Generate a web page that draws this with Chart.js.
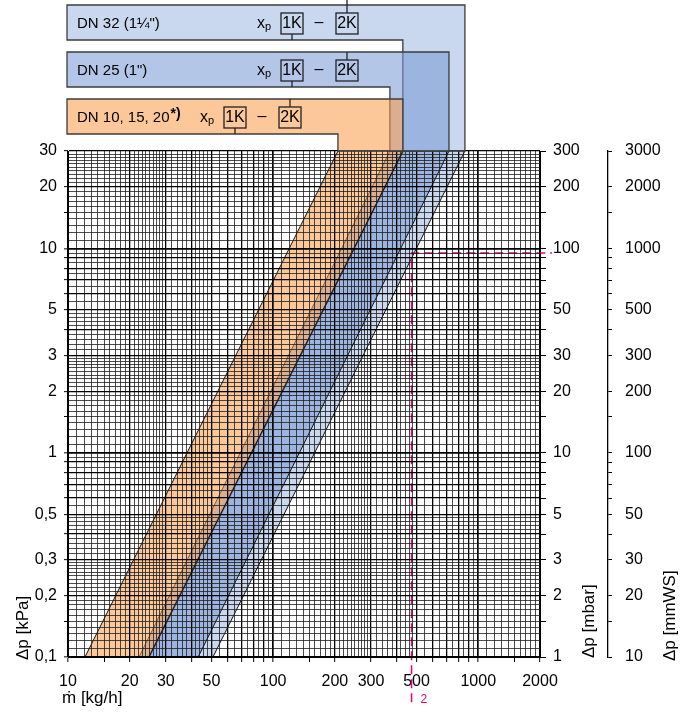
<!DOCTYPE html>
<html>
<head>
<meta charset="utf-8">
<title>Druckverlust-Diagramm</title>
<script src="https://cdn.jsdelivr.net/npm/chart.js@4.4.1/dist/chart.umd.min.js"></script>
<style>
  html, body { margin: 0; padding: 0; background: #fff; }
  #chartBox { width: 682px; height: 714px; }
</style>
</head>
<body>
<div id="chartBox"><canvas id="flowChart" width="682" height="714"></canvas></div>
<script>
/*********************************************/
/*        Pressure drop vs. mass flow        */
/*********************************************/

// characteristic lines, flow [kg/h] read at the bottom (0,1 kPa) and top (30 kPa) of the plot
const lineNames = ["DN 10/15/20 1K", "DN 10/15/20 2K", "DN 25 1K", "DN 25 2K", "DN 32 1K", "DN 32 2K"];
const flowAtBottom = [12.1, 24.8, 22.2, 43.1, 24.8, 50.9];
const flowAtTop = [207, 429, 371, 720, 429, 861];
const dpEnds = [0.1, 30];

// header boxes (one per band, bottom to top)
const bandNames = ["DN 10, 15, 20", "DN 25 (1\")", "DN 32 (1\u00bc\")"];

// example reading (pink dashed line, marked "2")
const exampleFlow = [473, 2290];
const exampleDp = [0.06, 9.5];

// labelled ticks
const flowTicks = [10, 20, 30, 50, 100, 200, 300, 500, 1000, 2000];
const kpaTicks = [0.1, 0.2, 0.3, 0.5, 1, 2, 3, 5, 10, 20, 30];
const mbarTicks = [1, 2, 3, 5, 10, 20, 30, 50, 100, 200, 300];
const mmwsTicks = [10, 20, 30, 50, 100, 200, 300, 500, 1000, 2000, 3000];

const bandColors = ["rgba(250,155,70,0.55)", "rgba(123,155,213,0.57)", "rgba(120,155,215,0.40)"];
const fontFamily = "'Liberation Sans', Arial, sans-serif";

Chart.defaults.font.family = fontFamily;
Chart.defaults.color = "#000";

// helpers for the log paper grid
function mantissa(v) {
  return v / Math.pow(10, Math.floor(Math.log10(v) + 1e-9));
}
function isWhole(v) {
  const m = mantissa(v);
  return Math.abs(m - Math.round(m)) < 1e-6;
}
function isDecade(v) {
  return Math.abs(mantissa(v) - 1) < 1e-6;
}
function isMark(v) {
  return isWhole(v) || Math.abs(mantissa(v) - 1.5) < 1e-6;
}
function hasLabel(list, v) {
  return list.some(t => Math.abs(t - v) / t < 1e-6);
}
function fmt(v) {
  return String(+v.toPrecision(6)).replace(".", ",");
}
// every grid line of one decade: 0.1 steps up to 3, 0.2 up to 5, 0.5 up to 10
function gridValues(min, max, marksOnly) {
  const vals = [];
  const steps = [[1, 3, 0.1], [3, 5, 0.2], [5, 10, 0.5]];
  for (let d = Math.floor(Math.log10(min)); d <= Math.ceil(Math.log10(max)); d++) {
    const p = Math.pow(10, d);
    steps.forEach(([a, b, s]) => {
      for (let m = a; m < b - 1e-9; m += s) {
        const v = +(m * p).toPrecision(6);
        if (v < min * 0.9999 || v > max * 1.0001) continue;
        if (marksOnly && !isMark(v)) continue;
        vals.push(v);
      }
    });
  }
  return vals;
}

function gridColor(c) {
  const v = c.tick ? c.tick.value : 1;
  return isWhole(v) ? "#000" : "#1e1e1e";
}
function gridWidth(c) {
  const v = c.tick ? c.tick.value : 1;
  if (isDecade(v)) return 1.7;
  return isWhole(v) ? 1.3 : 0.8;
}
function markColor(c) {
  const v = c.tick ? c.tick.value : 1;
  return isMark(v) ? "#000" : "rgba(0,0,0,0)";
}

// build the line datasets, every second line closes a band with the one before it
const datasets = lineNames.map((name, i) => ({
  label: name,
  data: [{ x: flowAtBottom[i], y: dpEnds[0] }, { x: flowAtTop[i], y: dpEnds[1] }],
  borderColor: "#111",
  borderWidth: i === 4 ? 2 : 1,
  pointRadius: 0,
  fill: i % 2 === 1 ? "-1" : false,
  backgroundColor: bandColors[Math.floor(i / 2)]
}));

datasets.push({
  label: "Beispiel",
  data: [
    { x: exampleFlow[0], y: exampleDp[0] },
    { x: exampleFlow[0], y: exampleDp[1] },
    { x: exampleFlow[1], y: exampleDp[1] }
  ],
  borderColor: "#e6007e",
  borderDash: [9, 5],
  borderWidth: 1.5,
  pointRadius: 0,
  fill: false,
  clip: false,
  order: -1
});

// header boxes, axis titles and the example marker
const decor = {
  id: "decor",
  afterDraw(chart) {
    const { ctx, chartArea, scales } = chart;
    const headerTop = [99, 52, 5];
    const headerH = 35;
    const xpX = [200, 257, 257];
    const left = chartArea.left - 1;

    ctx.save();
    for (let b = 2; b >= 0; b--) {
      const top = headerTop[b];
      const colL = scales.x.getPixelForValue(flowAtTop[2 * b]);
      const colR = scales.x.getPixelForValue(flowAtTop[2 * b + 1]);

      ctx.beginPath();
      ctx.moveTo(left, top);
      ctx.lineTo(colR, top);
      ctx.lineTo(colR, chartArea.top);
      ctx.lineTo(colL, chartArea.top);
      ctx.lineTo(colL, top + headerH);
      ctx.lineTo(left, top + headerH);
      ctx.closePath();
      ctx.fillStyle = bandColors[b];
      ctx.fill();
      ctx.strokeStyle = "#3c3c3c";
      ctx.lineWidth = 1.3;
      ctx.stroke();

      // name
      ctx.fillStyle = "#000";
      ctx.textAlign = "left";
      ctx.textBaseline = "alphabetic";
      ctx.font = "15px " + fontFamily;
      ctx.fillText(bandNames[b], left + 10, top + 23);
      if (b === 0) {
        const w = ctx.measureText(bandNames[b]).width;
        ctx.font = "bold 14px " + fontFamily;
        ctx.fillText("*)", left + 10 + w + 1, top + 19);
      }

      // x_p 1K - 2K
      const xp = xpX[b];
      ctx.font = "16px " + fontFamily;
      ctx.fillText("x", xp, top + 23);
      ctx.font = "11px " + fontFamily;
      ctx.fillText("p", xp + 8, top + 25);

      ctx.strokeStyle = "#222";
      ctx.lineWidth = 1.3;
      ctx.strokeRect(xp + 24, top + 8, 22, 21);
      ctx.strokeRect(xp + 79, top + 8, 22, 21);
      ctx.beginPath();
      ctx.moveTo(xp + 35, top + 29);
      ctx.lineTo(xp + 35, top + headerH);
      ctx.moveTo(xp + 90, top + 8);
      ctx.lineTo(xp + 90, b === 2 ? 0 : top);
      ctx.stroke();

      ctx.font = "16px " + fontFamily;
      ctx.textAlign = "center";
      ctx.textBaseline = "middle";
      ctx.fillText("1K", xp + 35, top + 19);
      ctx.fillText("2K", xp + 90, top + 19);
      ctx.fillText("\u2013", xp + 62, top + 18);
    }

    // axis titles
    ctx.font = "17px " + fontFamily;
    ctx.fillStyle = "#000";
    ctx.textAlign = "left";
    ctx.textBaseline = "alphabetic";
    ctx.fillText("\u1e41 [kg/h]", 62, 703);

    const vTitles = [["\u0394p [kPa]", 28, 660], ["\u0394p [mbar]", 594, 658], ["\u0394p [mmWS]", 675, 661]];
    vTitles.forEach(([t, x, y]) => {
      ctx.save();
      ctx.translate(x, y);
      ctx.rotate(-Math.PI / 2);
      ctx.fillText(t, 0, 0);
      ctx.restore();
    });

    // example marker
    ctx.fillStyle = "#e6007e";
    ctx.font = "12px " + fontFamily;
    ctx.fillText("2", scales.x.getPixelForValue(exampleFlow[0]) + 9, 703);
    ctx.restore();
  }
};

const tickFont = { size: 16, family: fontFamily };

const config = {
  type: "line",
  data: { datasets: datasets },
  options: {
    responsive: false,
    animation: false,
    indexAxis: "y",
    layout: { padding: { top: 151, left: 0, right: 0, bottom: 0 } },
    plugins: { legend: { display: false }, tooltip: { enabled: false } },
    scales: {
      x: {
        type: "logarithmic",
        position: "bottom",
        min: 10,
        max: 2000,
        afterBuildTicks: s => { s.ticks = gridValues(10, 2000).map(v => ({ value: v })); },
        afterFit: s => { s.height = 57; },
        grid: { z: 1, color: gridColor, lineWidth: gridWidth, tickLength: 5, tickColor: markColor, tickWidth: 1 },
        // border has to be drawn after the grid (it needs the grid's position)
        border: { z: 1, color: "#000", width: 1 },
        ticks: {
          autoSkip: false, maxRotation: 0, padding: 10, font: tickFont, color: "#000",
          callback: v => hasLabel(flowTicks, v) ? fmt(v) : ""
        }
      },
      y: {
        type: "logarithmic",
        position: "left",
        min: 0.1,
        max: 30,
        afterBuildTicks: s => { s.ticks = gridValues(0.1, 30).map(v => ({ value: v })); },
        afterFit: s => { s.width = 68; },
        grid: { z: 1, color: gridColor, lineWidth: gridWidth, tickLength: 4, tickColor: markColor, tickWidth: 1 },
        border: { z: 1, color: "#000", width: 1 },
        ticks: {
          autoSkip: false, padding: 7, font: tickFont, color: "#000",
          callback: v => hasLabel(kpaTicks, v) ? fmt(v) : ""
        }
      },
      mbar: {
        type: "logarithmic",
        position: "right",
        min: 1,
        max: 300,
        afterBuildTicks: s => { s.ticks = gridValues(1, 300, true).map(v => ({ value: v })); },
        afterFit: s => { s.width = 68; },
        grid: { drawOnChartArea: false, tickLength: 6, color: "#000", tickWidth: 1 },
        border: { color: "#000", width: 1 },
        ticks: {
          autoSkip: false, padding: 7, font: tickFont, color: "#000",
          callback: v => hasLabel(mbarTicks, v) ? fmt(v) : ""
        }
      },
      mmws: {
        type: "logarithmic",
        position: "right",
        min: 10,
        max: 3000,
        afterBuildTicks: s => { s.ticks = gridValues(10, 3000, true).map(v => ({ value: v })); },
        afterFit: s => { s.width = 74; },
        grid: { drawOnChartArea: false, tickLength: 4, color: "#000", tickWidth: 1 },
        border: { color: "#000", width: 1.3 },
        ticks: {
          autoSkip: false, padding: 13, font: tickFont, color: "#000",
          callback: v => hasLabel(mmwsTicks, v) ? fmt(v) : ""
        }
      }
    }
  },
  plugins: [decor]
};

const flowChart = new Chart(document.getElementById("flowChart"), config);
</script>
</body>
</html>
